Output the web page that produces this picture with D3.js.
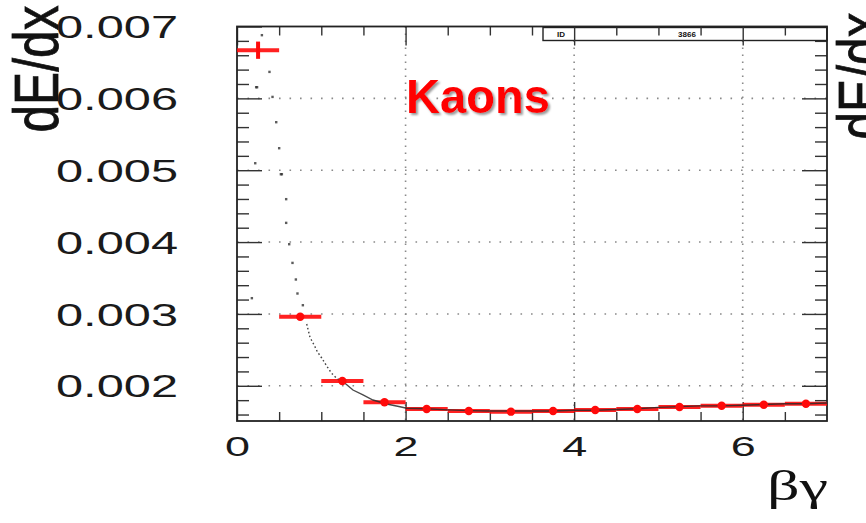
<!DOCTYPE html>
<html>
<head>
<meta charset="utf-8">
<script src="https://cdn.jsdelivr.net/npm/d3@7/dist/d3.min.js"></script>
<style>
  html, body { margin: 0; padding: 0; background: #fff; overflow: hidden; }
  svg { display: block; }
</style>
</head>
<body>
<svg id="chart" width="866" height="523"></svg>
<script>
// Profile of dE/dx versus beta*gamma for kaons (bins of 0.5 in beta*gamma)
const binCenters = [0.25, 0.75, 1.25, 1.75, 2.25, 2.75, 3.25, 3.75, 4.25, 4.75, 5.25, 5.75, 6.25, 6.75];
const binHalfWidth = [0.25, 0.25, 0.25, 0.25, 0.25, 0.25, 0.25, 0.25, 0.25, 0.25, 0.25, 0.25, 0.25, 0.25];
const dedxMean = [0.00667, 0.00296, 0.002067, 0.00177, 0.001677, 0.00165, 0.00164, 0.00165, 0.001663, 0.001677, 0.001705, 0.001723, 0.001737, 0.00175];
const dedxErr = [0.00012, 0.000015, 0.00001, 0.000008, 0.000005, 0.000005, 0.000005, 0.000005, 0.000005, 0.000005, 0.000005, 0.000005, 0.000005, 0.000005];

// Individual tracks in the sparse low beta*gamma region
const trackBeta = [0.293, 0.383, 0.225, 0.236, 0.419, 0.463, 0.498, 0.214, 0.518, 0.530, 0.581, 0.581, 0.617, 0.656, 0.174, 0.696, 0.715, 0.779];
const trackDedx = [0.006882, 0.006371, 0.006158, 0.006158, 0.006023, 0.005671, 0.005309, 0.0051, 0.004947, 0.004947, 0.0046, 0.00427, 0.003973, 0.003713, 0.003222, 0.003482, 0.003287, 0.003124];

// Dense band of tracks following the Bethe-Bloch curve
const bandBeta = [0.827, 0.866, 0.925, 0.953, 1.005, 1.064, 1.123, 1.183, 1.281, 1.376, 1.495, 1.613, 1.776, 1.934, 2.013,
  2.25, 2.5, 2.75, 3.0, 3.25, 3.5, 3.75, 4.0, 4.25, 4.5, 4.75, 5.0, 5.25, 5.5, 5.75, 6.0, 6.25, 6.5, 6.75, 7.0];
const bandDedx = [0.00286, 0.002675, 0.002544, 0.002474, 0.002387, 0.002275, 0.002174, 0.002104, 0.002035, 0.001941, 0.001872, 0.001802, 0.001747, 0.001709, 0.001687,
  0.00168, 0.001665, 0.001655, 0.00165, 0.00165, 0.00165, 0.00165, 0.00166, 0.00166, 0.00167, 0.00168, 0.0017, 0.00171, 0.00172, 0.00172, 0.00173, 0.00174, 0.00175, 0.00175, 0.00176];

// Axis ticks and labels
const xMajorTicks = [0, 2, 4, 6];
const xMinorTicks = [0.5, 1, 1.5, 2.5, 3, 3.5, 4.5, 5, 5.5, 6.5];
const yMajorTicks = [0.002, 0.003, 0.004, 0.005, 0.006, 0.007];
const yMinorTicks = [0.0016, 0.0018, 0.0022, 0.0024, 0.0026, 0.0028, 0.0032, 0.0034, 0.0036, 0.0038,
  0.0042, 0.0044, 0.0046, 0.0048, 0.0052, 0.0054, 0.0056, 0.0058, 0.0062, 0.0064, 0.0066, 0.0068];
const yTickLabels = ["0.002", "0.003", "0.004", "0.005", "0.006", "0.007"];
const xTickLabels = ["0", "2", "4", "6"];
const xTitle = "βγ";
const yTitle = "dE/dx";
const panelTitle = "Kaons";
const statLabels = ["ID", "3866"];

const svg = d3.select("#chart");
const L = 237, R = 827, T = 26.5, B = 421;

const x = d3.scaleLinear().domain([0, 7]).range([L, R]);
const y = d3.scaleLinear().domain([0.00151, 0.007]).range([B, T]);

const sansFont = "'Liberation Sans', Arial, Helvetica, sans-serif";

// Drop shadow used by the panel title
const defs = svg.append("defs");
defs.append("filter").attr("id", "titleShadow")
  .attr("x", "-10%").attr("y", "-20%").attr("width", "130%").attr("height", "150%")
  .append("feDropShadow")
  .attr("dx", 2).attr("dy", 2).attr("stdDeviation", 0.8)
  .attr("flood-color", "#808080").attr("flood-opacity", 0.8);

// Grid lines (dotted)
const grid = svg.append("g").attr("stroke", "#8a8a8a").attr("stroke-width", 1.6).attr("fill", "none");
grid.selectAll("line.gy").data(yMajorTicks.filter(v => v < 0.007)).join("line")
  .attr("class", "gy")
  .attr("x1", L).attr("x2", R)
  .attr("y1", d => y(d)).attr("y2", d => y(d))
  .attr("stroke-dasharray", "1.6,8.9");
grid.selectAll("line.gx").data(xMajorTicks.filter(v => v > 0)).join("line")
  .attr("class", "gx")
  .attr("x1", d => x(d)).attr("x2", d => x(d))
  .attr("y1", T).attr("y2", B)
  .attr("stroke-dasharray", "1.6,5.4");

// Axes with inward ticks on all four sides
function styleAxis(g) {
  g.select(".domain").remove();
  g.selectAll(".tick line").attr("stroke", "#333").attr("stroke-width", 1.4);
}

svg.append("g").attr("transform", `translate(${L},0)`)
  .call(d3.axisLeft(y).tickValues(yMinorTicks).tickFormat("").tickSize(-12))
  .call(styleAxis);
svg.append("g").attr("transform", `translate(${L},0)`)
  .call(d3.axisLeft(y).tickValues(yMajorTicks).tickFormat((d, i) => yTickLabels[i]).tickSize(-25).tickPadding(59))
  .call(styleAxis)
  .call(g => g.selectAll(".tick text")
    .attr("font-family", sansFont).attr("font-size", 31).attr("fill", "#1a1a1a")
    .attr("textLength", 122).attr("lengthAdjust", "spacingAndGlyphs")
    .attr("dy", "0.36em"));

svg.append("g").attr("transform", `translate(${R},0)`)
  .call(d3.axisRight(y).tickValues(yMinorTicks).tickFormat("").tickSize(-12))
  .call(styleAxis);
svg.append("g").attr("transform", `translate(${R},0)`)
  .call(d3.axisRight(y).tickValues(yMajorTicks).tickFormat("").tickSize(-25))
  .call(styleAxis);

svg.append("g").attr("transform", `translate(0,${B})`)
  .call(d3.axisBottom(x).tickValues(xMinorTicks).tickFormat("").tickSize(-9))
  .call(styleAxis);
svg.append("g").attr("transform", `translate(0,${B})`)
  .call(d3.axisBottom(x).tickValues(xMajorTicks).tickFormat((d, i) => xTickLabels[i]).tickSize(-19).tickPadding(15))
  .call(styleAxis)
  .call(g => g.selectAll(".tick text")
    .attr("font-family", sansFont).attr("font-size", 28).attr("fill", "#1a1a1a")
    .attr("textLength", 25).attr("lengthAdjust", "spacingAndGlyphs"));

// Statistics box along the top edge
const stat = svg.append("g");
stat.append("rect")
  .attr("x", 543).attr("y", T + 1).attr("width", R - 543).attr("height", 13)
  .attr("fill", "#fff").attr("stroke", "#222").attr("stroke-width", 1.4);
stat.selectAll("text").data(statLabels).join("text")
  .attr("x", (d, i) => i === 0 ? 561 : 687)
  .attr("y", T + 10.5)
  .attr("text-anchor", "middle")
  .attr("font-family", sansFont).attr("font-weight", "bold").attr("font-size", 8)
  .attr("fill", "#111")
  .text(d => d);

svg.append("g").attr("transform", `translate(0,${T})`)
  .call(d3.axisTop(x).tickValues(xMinorTicks).tickFormat("").tickSize(-9))
  .call(styleAxis);
svg.append("g").attr("transform", `translate(0,${T})`)
  .call(d3.axisTop(x).tickValues(xMajorTicks).tickFormat("").tickSize(-19))
  .call(styleAxis);

// Frame
svg.append("rect")
  .attr("x", L).attr("y", T).attr("width", R - L).attr("height", B - T)
  .attr("fill", "none").attr("stroke", "#222").attr("stroke-width", 1.8);

// Profile: horizontal bin-width bars and vertical error bars
const prof = binCenters.map((c, i) => ({ c, hw: binHalfWidth[i], m: dedxMean[i], e: dedxErr[i] }));
const red = "#ff0a0a";
svg.append("g").selectAll("line").data(prof).join("line")
  .attr("x1", d => x(d.c - d.hw)).attr("x2", d => x(d.c + d.hw))
  .attr("y1", d => y(d.m)).attr("y2", d => y(d.m))
  .attr("stroke", red).attr("stroke-width", 4).attr("opacity", 0.9);
svg.append("g").selectAll("line").data(prof).join("line")
  .attr("x1", d => x(d.c)).attr("x2", d => x(d.c))
  .attr("y1", d => y(d.m - d.e)).attr("y2", d => y(d.m + d.e))
  .attr("stroke", red).attr("stroke-width", 4);

// Tracks: scattered points and the dense band
svg.append("g").selectAll("rect").data(trackBeta.map((b, i) => [b, trackDedx[i]])).join("rect")
  .attr("x", d => x(d[0]) - 1).attr("y", d => y(d[1]) - 1)
  .attr("width", 2.4).attr("height", 2.4)
  .attr("fill", "#333").attr("opacity", 0.8);

const band = bandBeta.map((b, i) => [b, bandDedx[i]]);
svg.append("path")
  .datum(band.filter(d => d[0] < 1.3))
  .attr("d", d3.line().x(d => x(d[0])).y(d => y(d[1])))
  .attr("fill", "none").attr("stroke", "#444").attr("stroke-width", 1.4)
  .attr("stroke-dasharray", "1.6,2.4");
svg.append("path")
  .datum(band.filter(d => d[0] >= 1.2))
  .attr("d", d3.line().x(d => x(d[0])).y(d => y(d[1])))
  .attr("fill", "none").attr("stroke", "#2a2a2a").attr("stroke-width", 1.4).attr("opacity", 0.85);

// Profile markers
svg.append("g").selectAll("circle").data(prof.slice(1)).join("circle")
  .attr("cx", d => x(d.c)).attr("cy", d => y(d.m))
  .attr("r", 4.2).attr("fill", red);

// Panel title with drop shadow
svg.append("text")
  .attr("x", 406).attr("y", 113)
  .attr("font-family", sansFont).attr("font-weight", "bold").attr("font-size", 48)
  .attr("fill", "#ff0000").attr("filter", "url(#titleShadow)")
  .attr("textLength", 144).attr("lengthAdjust", "spacingAndGlyphs")
  .text(panelTitle);

// Axis titles
svg.append("text")
  .attr("transform", "translate(58,69) rotate(-90)")
  .attr("text-anchor", "middle")
  .attr("font-family", sansFont).attr("font-size", 63).attr("fill", "#111")
  .attr("stroke", "#111").attr("stroke-width", 0.8)
  .attr("textLength", 127).attr("lengthAdjust", "spacingAndGlyphs")
  .text(yTitle);

svg.append("text")
  .attr("transform", "translate(882,76) rotate(-90)")
  .attr("text-anchor", "middle")
  .attr("font-family", sansFont).attr("font-size", 63).attr("fill", "#111")
  .attr("stroke", "#111").attr("stroke-width", 0.8)
  .attr("textLength", 127).attr("lengthAdjust", "spacingAndGlyphs")
  .text(yTitle);

svg.append("text")
  .attr("x", 828).attr("y", 500)
  .attr("text-anchor", "end")
  .attr("font-family", "'Liberation Serif', 'Times New Roman', serif").attr("font-size", 43).attr("fill", "#111")
  .attr("textLength", 61).attr("lengthAdjust", "spacingAndGlyphs")
  .text(xTitle);
</script>
</body>
</html>
